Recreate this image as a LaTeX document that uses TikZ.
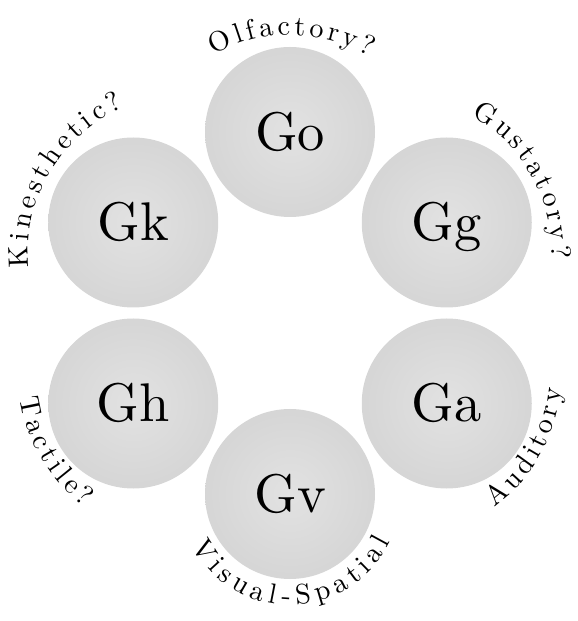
\documentclass[tikz,border=0pt]{standalone}
\usepackage{fontspec}
\usepackage{tikz}
\usetikzlibrary{positioning, decorations.text}
\newfontfamily\tenrm{lmroman10-regular.otf}
\definecolor{SphLight}{HTML}{E2E2E2}
\definecolor{SphDark}{HTML}{C9C9C9}
\pgfdeclareradialshading{sphere}{\pgfpointorigin}{color(0bp)=(SphLight); color(50bp)=(SphDark)}
\newcommand{\cuefont}{\tenrm\fontsize{16}{19}\selectfont}

\begin{document}
\begin{tikzpicture}[
    sense/.style={circle, shade, shading=sphere, minimum size=3.4cm, inner sep=0pt,
        font=\tenrm\fontsize{31}{36}\selectfont, text height=21pt, text depth=0pt},
    cue/.style 2 args={decorate, decoration={text along path, text={|\cuefont\kern#2|#1}, text align=center}}
]
\useasboundingbox (-5.8,-6.16) rectangle (5.74,6.26);
\coordinate (hub) at (0,0);

% Modalities round the hexagon
\node[sense] (go) at (90:3.62) {Go};
\node[sense] (gg) at (30:3.62) {Gg};
\node[sense] (ga) at (-30:3.62) {Ga};
\node[sense] (gv) at (-90:3.62) {Gv};
\node[sense] (gh) at (210:3.62) {Gh};
\node[sense] (gk) at (150:3.62) {Gk};

% Centres of the label arcs
\coordinate (oc) at (90:2.4);
\coordinate (gc) at (30:2.4);
\coordinate (kc) at (150:2.4);
\coordinate (tc) at (210:2.4);
\coordinate (ac) at (-30:2.4);

% Labels along the outer arcs
\path[cue={Olfactory?}{2.1pt}] ([shift={(135:3.16)}]oc) arc[start angle=135, end angle=45, radius=3.16];
\path[cue={Gustatory?}{2.2pt}] ([shift={(75:3.16)}]gc) arc[start angle=75, end angle=-15, radius=3.16];
\path[cue={Kinesthetic?}{2.4pt}] ([shift={(195:3.16)}]kc) arc[start angle=195, end angle=105, radius=3.16];
\path[cue={Tactile?}{2.4pt}] ([shift={(165:3.36)}]tc) arc[start angle=165, end angle=255, radius=3.36];
\path[cue={Auditory}{2.4pt}] ([shift={(-75:3.36)}]ac) arc[start angle=-75, end angle=15, radius=3.36];
\path[cue={Visual-Spatial}{3.2pt}] ([shift={(200:2.22)}]gv.center) arc[start angle=200, end angle=340, radius=2.22];

\end{tikzpicture}
\end{document}
